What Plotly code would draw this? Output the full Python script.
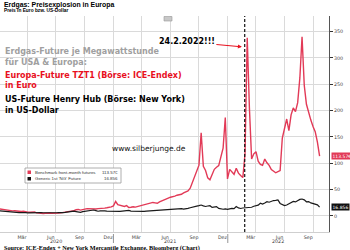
import pandas as pd
import plotly.graph_objects as go

# ---------------- data ----------------
DATES = pd.date_range("2020-01-03", "2022-10-21", freq="W-FRI")

TTF_2020 = [13.5, 12.8, 11.9, 11.2, 10.4, 9.8, 9.6, 9.9, 9.2, 8.9, 8.4, 9.1, 7.9,
            7.4, 7.2, 6.9, 7.6, 5.8, 5.1, 4.9, 4.6, 5.2, 5.9, 5.6, 5.3, 5.8,
            5.9, 5.4, 5.8, 6.4, 6.9, 7.8, 8.6, 9.4, 10.1, 11.8, 12.4, 11.2, 12.6,
            13.1, 13.9, 13.5, 14.2, 13.7, 13.3, 13.9, 13.8, 14.5, 14.9, 15.6, 16.3, 17.2]
TTF_2021 = [19.2, 27.5, 21.3, 19.8, 18.4, 18.1, 19.6, 16.2, 16.5, 17.4, 16.8, 17.9, 18.6,
            18.9, 20.1, 21.4, 22.8, 24.3, 25.7, 24.9, 24.1, 26.8, 28.2, 29.6, 31.4, 33.9,
            35.6, 36.1, 37.8, 39.4, 40.6, 41.2, 43.9, 45.8, 47.5, 52.6, 63.4, 74.1, 86.8,
            96.5, 158.0, 94.2, 86.3, 72.4, 68.5, 79.8, 88.6, 92.4, 95.7, 112.3, 128.6, 187.0, 70.3]
TTF_2022 = [88.4, 82.6, 79.1, 90.5, 81.3, 76.8, 72.9, 118.0, 338.0, 205.0, 108.0, 118.0,
            122.0, 104.0, 98.0, 96.0, 108.0, 101.0, 96.0, 88.0, 85.0, 82.0, 84.0, 86.0, 148.0,
            168.0, 184.0, 162.0, 192.0, 205.0, 198.0, 215.0, 262.0, 340.0,
            248.0, 212.0, 196.0, 182.0, 170.0, 160.0, 140.0, 113.57]
TTF = TTF_2020 + TTF_2021 + TTF_2022

NG_2020 = [9.6, 9.1, 8.6, 8.2, 7.6, 7.4, 7.0, 7.2, 6.6, 6.3, 6.4, 6.9, 6.5,
           6.0, 6.2, 6.6, 6.9, 6.8, 6.4, 6.3, 6.1, 5.9, 6.2, 6.0, 5.8, 5.6,
           6.1, 6.4, 5.9, 6.3, 6.8, 7.4, 8.2, 8.9, 9.2, 8.4, 7.9, 6.9, 8.1,
           8.6, 9.3, 10.2, 10.4, 11.3, 10.2, 9.0, 9.6, 10.1, 9.5, 9.2, 9.0, 8.7]
NG_2021 = [8.6, 9.1, 9.0, 8.8, 9.3, 9.6, 10.1, 10.5, 9.3, 9.1, 8.9, 8.6, 8.8,
           8.6, 8.9, 9.2, 9.5, 10.0, 10.1, 9.9, 10.2, 10.4, 10.8, 11.2, 11.6, 12.0,
           12.4, 12.8, 12.6, 13.2, 13.5, 14.0, 13.1, 13.3, 14.3, 15.7, 17.1, 17.9, 18.7,
           19.6, 20.8, 19.1, 18.0, 18.9, 19.5, 16.2, 16.9, 17.7, 14.3, 13.1, 12.8, 13.6, 12.4]
NG_2022 = [13.4, 14.5, 13.9, 17.9, 15.3, 14.2, 15.1, 15.6, 16.0, 15.4, 16.6, 18.4,
           19.0, 20.5, 24.1, 22.6, 24.5, 27.2, 26.1, 27.9, 29.3, 29.6, 30.5, 23.8, 21.4,
           19.7, 20.9, 23.6, 26.3, 27.5, 26.6, 29.8, 31.4, 32.2,
           30.6, 26.9, 27.4, 24.8, 23.1, 22.4, 21.2, 16.856]
NG = NG_2020 + NG_2021 + NG_2022

TTF_LAST_LABEL = "113.57€"
NG_LAST_LABEL = "16.856"
EVENT_DATE = "2022-02-24"
EVENT_ARROW_TARGET = ("2022-02-15", 321)

MONTH_TICKS = ["2020-03-15", "2020-06-15", "2020-09-15", "2020-12-15",
               "2021-03-15", "2021-06-15", "2021-09-15", "2021-12-15",
               "2022-03-15", "2022-06-15", "2022-09-15"]
MONTH_TEXT = ["Mär", "Jun", "Sep", "Dez"] * 2 + ["Mär", "Jun", "Sep"]
QUARTER_GRID = ["2020-04-01", "2020-07-01", "2020-10-01", "2021-01-01", "2021-04-01",
                "2021-07-01", "2021-10-01", "2022-01-01", "2022-04-01", "2022-07-01",
                "2022-10-01"]
YEAR_LABELS = ["2020", "2021", "2022"]
YEAR_LABEL_POS = ["2020-07-01", "2021-07-02", "2022-06-10"]
YEAR_STARTS = ["2021-01-01", "2022-01-01"]
Y_TICKS = [0, 50, 100, 150, 200, 250, 300, 350]

RED = "#e23a57"
TXT_RED = "#e8101e"

# ---------------- layout helpers (pixel -> paper) ----------------
W, H = 350, 250
ML, MR, MT, MB = 0, 21, 16, 18
PW, PH = W - ML - MR, H - MT - MB


def px(x):
    return (x - ML) / PW


def py(y):
    return (H - MB - y) / PH


fig = go.Figure()
fig.add_trace(go.Scatter(x=DATES, y=TTF, mode="lines", line=dict(color=RED, width=1.4),
                         showlegend=False, hoverinfo="skip"))
fig.add_trace(go.Scatter(x=DATES, y=NG, mode="lines", line=dict(color="#1a1a1a", width=1.2),
                         showlegend=False, hoverinfo="skip"))

fig.add_vline(x=EVENT_DATE, line=dict(color="#111", width=1.2, dash="3px,2px"))

ann = []


def txt(x, y, s, size, color="#000", bold=False, family="DejaVu Sans", xanchor="left", **kw):
    ann.append(dict(x=px(x), y=py(y), xref="paper", yref="paper", text=("<b>%s</b>" % s) if bold else s,
                    showarrow=False, xanchor=xanchor, yanchor="middle",
                    font=dict(size=size, color=color, family=family), **kw))


# titles
txt(2, 4.5, "Erdgas: Preisexplosion in Europa", 6.9, bold=True, family="Liberation Sans")
txt(2, 10.5, "Preis in Euro bzw. US-Dollar", 4.8, bold=True, family="Liberation Sans")

# overlay texts
txt(3, 52, "Erdgas-Future je Megawattstunde", 8, color="#a0a0a0", bold=True)
txt(3, 63, "für USA &amp; Europa:", 8, color="#a0a0a0", bold=True)
txt(3, 75.5, "Europa-Future TZT1 (Börse: ICE-Endex)", 8, color=TXT_RED, bold=True)
txt(3, 85.5, "in Euro", 8, color=TXT_RED, bold=True)
txt(3, 100, "US-Future Henry Hub (Börse: New York)", 8, color="#000", bold=True)
txt(3, 110, "in US-Dollar", 8, color="#000", bold=True)
txt(110, 148, "www.silberjunge.de", 7.5, color="#111")

# event annotation with arrow
ann.append(dict(x=EVENT_ARROW_TARGET[0], y=EVENT_ARROW_TARGET[1], xref="x", yref="y",
                text="<b>24.2.2022!!!</b>", showarrow=True, arrowhead=2, arrowsize=0.8,
                arrowwidth=1, arrowcolor=TXT_RED, ax=-55, ay=-5,
                font=dict(size=8, color="#000", family="DejaVu Sans")))

# legend (custom box)
LEG_FONT = "Liberation Sans"
txt(33, 172.3, "Benchmark front-month futures", 4.4, color="#333", family=LEG_FONT)
txt(33, 178.8, "Generic 1st 'NG' Future", 4.4, color="#333", family=LEG_FONT)
txt(120, 172.3, TTF_LAST_LABEL, 4.4, color="#333", xanchor="right", family=LEG_FONT)
txt(120, 178.8, NG_LAST_LABEL, 4.4, color="#333", xanchor="right", family=LEG_FONT)

# last value tags on right axis
for val, lab, col in [(TTF[-1], TTF_LAST_LABEL, RED), (NG[-1], NG_LAST_LABEL, "#111")]:
    ann.append(dict(x=px(331), y=val, xref="paper", yref="y", text=lab, showarrow=False,
                    xanchor="left", yanchor="middle", bgcolor=col, borderpad=0.5,
                    font=dict(size=4.5, color="white", family="DejaVu Sans")))

# year labels
for lab, pos in zip(YEAR_LABELS, YEAR_LABEL_POS):
    ann.append(dict(x=pos, y=py(241.5), xref="x", yref="paper", text=lab, showarrow=False,
                    xanchor="center", yanchor="middle",
                    font=dict(size=4.8, color="#444", family="DejaVu Sans")))

# source line
txt(2, 247.5, "Source: ICE-Endex + New York Mercantile Exchange, Bloomberg (Chart)", 6.2,
    color="#000", bold=True, family="Liberation Serif")

shapes = []
# legend box and squares
shapes.append(dict(type="rect", xref="paper", yref="paper", x0=px(25), x1=px(121), y0=py(183),
                   y1=py(168), line=dict(color="#9a9a9a", width=0.8), fillcolor="white", layer="above"))
shapes.append(dict(type="rect", xref="paper", yref="paper", x0=px(27.5), x1=px(31), y0=py(174),
                   y1=py(170.5), line=dict(width=0), fillcolor=RED, layer="above"))
shapes.append(dict(type="rect", xref="paper", yref="paper", x0=px(27.5), x1=px(31), y0=py(180.5),
                   y1=py(177), line=dict(width=0), fillcolor="#111", layer="above"))
# year boundary ticks
for d in YEAR_STARTS:
    shapes.append(dict(type="line", xref="x", yref="paper", x0=d, x1=d, y0=py(234), y1=py(243),
                       line=dict(color="#777", width=0.8)))
# small bloomberg button
shapes.append(dict(type="rect", xref="paper", yref="paper", x0=px(164), x1=px(172), y0=py(21),
                   y1=py(16.5), line=dict(color="#999", width=0.6), fillcolor="#c8c8c8"))

fig.update_layout(
    width=W, height=H, margin=dict(l=ML, r=MR, t=MT, b=MB),
    paper_bgcolor="white", plot_bgcolor="white",
    annotations=ann, shapes=fig.layout.shapes + tuple(shapes) if fig.layout.shapes else shapes,
    xaxis=dict(range=["2020-01-05", "2022-11-20"], tickmode="array", tickvals=MONTH_TICKS,
               ticktext=MONTH_TEXT, showgrid=False, ticks="", ticklen=0,
               tickfont=dict(size=4.8, color="#444", family="DejaVu Sans"),
               showline=True, linecolor="#cfcfcf", linewidth=1, zeroline=False,
               minor=dict(tickmode="array", tickvals=QUARTER_GRID, showgrid=True,
                          gridcolor="#dadada", gridwidth=1, ticks="")),
    yaxis=dict(range=[-30.4, 379.5], side="right", tickmode="array", tickvals=Y_TICKS,
               showgrid=True, gridcolor="#dadada", gridwidth=1, zeroline=False,
               ticks="outside", ticklen=3, tickcolor="#333", tickwidth=1,
               showline=True, linecolor="#555", linewidth=1,
               tickfont=dict(size=4.8, color="#444", family="DejaVu Sans")),
)

fig.write_html("out.html")
